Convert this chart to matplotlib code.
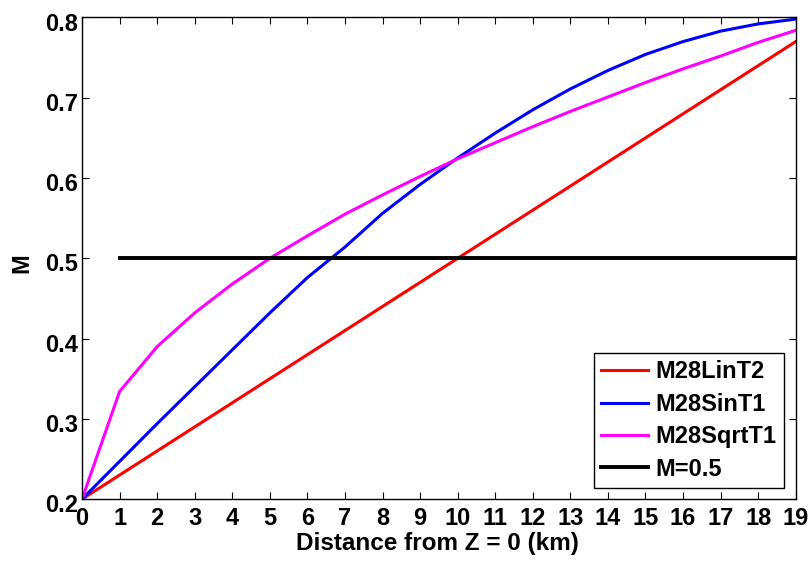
import numpy as np
import matplotlib
matplotlib.use('Agg')
import matplotlib.pyplot as plt
import matplotlib.transforms as mtransforms

plt.rcParams['font.family'] = ['Liberation Sans', 'DejaVu Sans']
plt.rcParams['font.weight'] = 'bold'
plt.rcParams['font.size'] = 17

dist = list(range(20))
m_lin = [0.20, 0.23, 0.26, 0.29, 0.32, 0.35, 0.38, 0.41, 0.44, 0.47,
         0.50, 0.53, 0.56, 0.59, 0.62, 0.65, 0.68, 0.71, 0.74, 0.77]
m_sin = [0.200, 0.247, 0.294, 0.340, 0.386, 0.432, 0.476, 0.514, 0.556, 0.592,
         0.625, 0.656, 0.685, 0.711, 0.734, 0.754, 0.770, 0.783, 0.792, 0.798]
m_sqrt = [0.200, 0.334, 0.390, 0.432, 0.468, 0.500, 0.528, 0.555, 0.579, 0.602,
          0.624, 0.644, 0.664, 0.683, 0.701, 0.719, 0.736, 0.752, 0.769, 0.784]
ref_x = [1, 19]
ref_m = [0.5, 0.5]

fig = plt.figure(figsize=(8.12, 5.64), dpi=100)
ax = fig.add_axes([0.101, 0.115, 0.879, 0.854])

ax.plot(dist, m_lin, color='#ff0000', linewidth=2.2, label='M28LinT2')
ax.plot(dist, m_sin, color='#0000ff', linewidth=2.2, label='M28SinT1')
ax.plot(dist, m_sqrt, color='#ff00ff', linewidth=2.2, label='M28SqrtT1')
ax.plot(ref_x, ref_m, color='black', linewidth=2.8, label='M=0.5')

ax.set_xlim(0, 19)
ax.set_ylim(0.2, 0.8)
ax.set_xticks(range(0, 20))
ax.set_yticks([0.2, 0.3, 0.4, 0.5, 0.6, 0.7, 0.8])
ax.set_yticklabels(['0.2', '0.3', '0.4', '0.5', '0.6', '0.7', '0.8'])
ax.tick_params(direction='in', top=True, right=True, length=5, width=0.8)
ax.tick_params(axis='x', pad=6)
ax.tick_params(axis='y', pad=3)
for s in ax.spines.values():
    s.set_linewidth(1.0)

# nudge y tick labels down a little
shift = mtransforms.ScaledTranslation(0, -3 / 72, fig.dpi_scale_trans)
for lbl in ax.get_yticklabels():
    lbl.set_transform(lbl.get_transform() + shift)

ax.set_xlabel('Distance from Z = 0 (km)', fontweight='bold', fontsize=17.5)
ax.xaxis.set_label_coords(0.498, -0.092)
ax.xaxis.label.set_verticalalignment('center')
ax.set_ylabel('M', fontweight='bold')
ax.yaxis.set_label_coords(-0.084, 0.49)
ax.yaxis.label.set_verticalalignment('center')

leg = ax.legend(loc='lower right', bbox_to_anchor=(0.983, 0.0235), borderaxespad=0,
                fancybox=False, edgecolor='black', framealpha=1,
                handlelength=2.0, handletextpad=0.3, labelspacing=0.4,
                borderpad=0.3)
leg.get_frame().set_linewidth(1.0)

plt.savefig('out.png', dpi=100)
